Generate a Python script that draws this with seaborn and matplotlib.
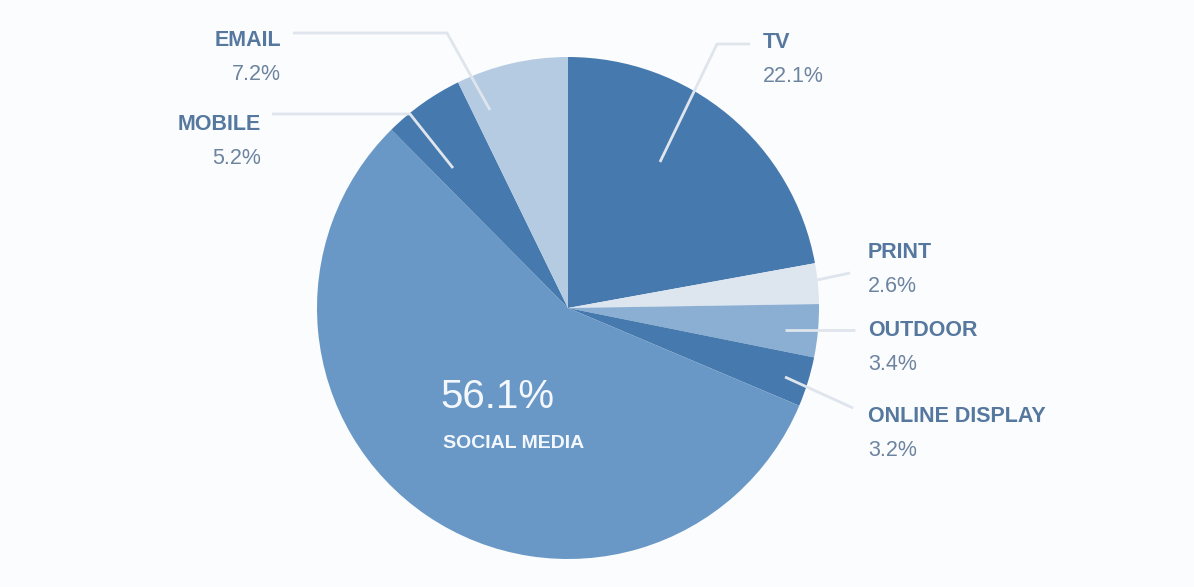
import matplotlib
matplotlib.use("Agg")
import matplotlib.pyplot as plt
import seaborn as sns

sns.set_theme(style="white")
plt.rcParams['font.family'] = ['Liberation Sans', 'DejaVu Sans']

categories = ["TV", "PRINT", "OUTDOOR", "ONLINE DISPLAY", "SOCIAL MEDIA", "MOBILE", "EMAIL"]
values = [22.1, 2.6, 3.4, 3.2, 56.1, 5.2, 7.2]
pct_labels = ["22.1%", "2.6%", "3.4%", "3.2%", "56.1%", "5.2%", "7.2%"]
colors = ["#4679ae", "#dde5ef", "#8aafd3", "#4679ae", "#6a98c6", "#4679ae", "#b4cbe2"]

W, H = 1194, 587
fig = plt.figure(figsize=(W / 100, H / 100), dpi=100, facecolor="#fbfcfd")
ax = fig.add_axes([0, 0, 1, 1])
ax.set_facecolor("#fbfcfd")

cx, cy, r = 568, H - 308, 251
ax.pie(values, colors=colors, startangle=90, counterclock=False,
       center=(cx, cy), radius=r, wedgeprops=dict(linewidth=0), frame=True)
ax.set_xlim(0, W)
ax.set_ylim(0, H)
ax.set_aspect("equal")
ax.axis("off")

def Y(y):
    return H - y

line_col = "#dfe5ec"
# leader lines (pixel layout)
leaders = [
    ([293, 447, 490], [33, 33, 110]),      # EMAIL
    ([272, 410, 453], [114, 114, 168]),    # MOBILE
    ([750, 717, 660], [44, 44, 162]),      # TV
    ([850, 817], [273, 280]),              # PRINT
    ([855, 785], [330, 330]),              # OUTDOOR
    ([853, 785], [408, 377]),              # ONLINE DISPLAY
]
for xs, ys in leaders:
    ax.plot(xs, [Y(v) for v in ys], color=line_col, lw=2, solid_capstyle="butt", zorder=3)

name_col = "#56789f"
pct_col = "#6d84a0"
fs = 15.5

def lab(x, y, i, ha):
    ax.text(x, Y(y), categories[i], ha=ha, va="center", fontsize=fs,
            fontweight="bold", color=name_col)
    ax.text(x, Y(y + 34), pct_labels[i], ha=ha, va="center", fontsize=fs,
            color=pct_col)

lab(281, 41, 6, "right")
lab(261, 124, 5, "right")
lab(763, 43, 0, "left")
lab(868, 253, 1, "left")
lab(868, 330, 2, "left")
lab(868, 416, 3, "left")

ax.text(497, Y(397), pct_labels[4], ha="center", va="center", fontsize=29,
        color="#f4f8fc")
ax.text(514, Y(443), categories[4], ha="center", va="center", fontsize=14,
        fontweight="bold", color="#f4f8fc")

fig.savefig("out.png", dpi=100, facecolor=fig.get_facecolor())
